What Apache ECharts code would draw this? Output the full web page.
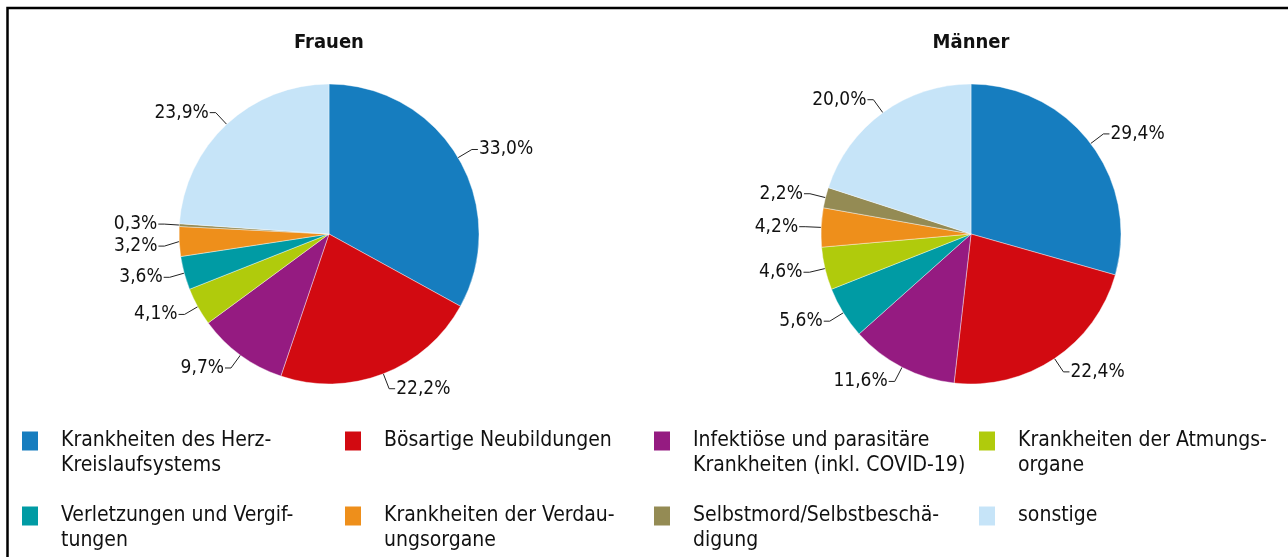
<!DOCTYPE html>
<html>
<head>
<meta charset="utf-8">
<script src="https://cdn.jsdelivr.net/npm/echarts@6/dist/echarts.min.js"></script>
<style>
  html, body { margin: 0; padding: 0; background: #fff; }
  #chart { width: 1288px; height: 557px; }
</style>
</head>
<body>
<div id="chart"></div>
<script>
// categories, in legend order
var categories = [
  'Krankheiten des Herz-Kreislaufsystems',
  'Bösartige Neubildungen',
  'Infektiöse und parasitäre Krankheiten (inkl. COVID-19)',
  'Krankheiten der Atmungsorgane',
  'Verletzungen und Vergiftungen',
  'Krankheiten der Verdauungsorgane',
  'Selbstmord/Selbstbeschädigung',
  'sonstige'
];
// legend text as it is wrapped in the picture
var legendLines = [
  'Krankheiten des Herz-\nKreislaufsystems',
  'Bösartige Neubildungen\n ',
  'Infektiöse und parasitäre\nKrankheiten (inkl. COVID-19)',
  'Krankheiten der Atmungs-\norgane',
  'Verletzungen und Vergif-\ntungen',
  'Krankheiten der Verdau-\nungsorgane',
  'Selbstmord/Selbstbeschä-\ndigung',
  'sonstige\n '
];
var colors = ['#167dbf', '#d20a11', '#951b81', '#b0cb0c', '#009ba4', '#ee8f1b', '#948b54', '#c6e4f8'];

// shares in %, clockwise from 12 o'clock
var frauenOrder = [0, 1, 2, 3, 4, 5, 6, 7];
var frauenValues = [33.0, 22.2, 9.7, 4.1, 3.6, 3.2, 0.3, 23.9];
var maennerOrder = [0, 1, 2, 4, 3, 5, 6, 7];
var maennerValues = [29.4, 22.4, 11.6, 5.6, 4.6, 4.2, 2.2, 20.0];

var fontFamily = '"DejaVu Sans Condensed", "DejaVu Sans", sans-serif';

function buildData(order, values) {
  return order.map(function (idx, i) {
    return { name: categories[idx], value: values[i], itemStyle: { color: colors[idx] } };
  });
}

function pieSeries(name, center, order, values) {
  return {
    name: name,
    type: 'pie',
    center: center,
    radius: 150,
    startAngle: 90,
    clockwise: true,
    avoidLabelOverlap: true,
    animation: false,
    itemStyle: { borderColor: '#fff', borderWidth: 0.4 },
    label: {
      show: true,
      formatter: function (p) { return p.value.toFixed(1).replace('.', ',') + '%'; },
      color: '#111',
      fontSize: 19,
      lineHeight: 20,
      fontFamily: fontFamily,
      verticalAlign: 'bottom',
      distanceToLabelLine: 1
    },
    labelLine: {
      show: true,
      length: 16,
      length2: 6,
      lineStyle: { color: '#222', width: 1 }
    },
    emphasis: { disabled: true },
    data: buildData(order, values)
  };
}

// legend: 4 columns x 2 rows; a blank first line keeps the icon level with line one
var legendX = [20, 343, 652, 977];
var legendMid = [441, 516];
var legends = categories.map(function (name, i) {
  return {
    data: [name],
    left: legendX[i % 4],
    top: legendMid[Math.floor(i / 4)] - 37.5,
    padding: 0,
    itemWidth: 18,
    itemHeight: 21,
    icon: 'rect',
    selectedMode: false,
    formatter: function () { return ' \n' + legendLines[i]; },
    textStyle: {
      color: '#111',
      fontSize: 21,
      fontFamily: fontFamily,
      lineHeight: 25,
      padding: [0, 0, 0, 17]
    }
  };
});

var chart = echarts.init(document.getElementById('chart'));
chart.setOption({
  backgroundColor: '#fff',
  animation: false,
  title: [
    { text: 'Frauen', left: 324, top: 28, textAlign: 'center',
      textStyle: { fontSize: 20, fontWeight: 'bold', color: '#111', fontFamily: fontFamily } },
    { text: 'Männer', left: 966, top: 28, textAlign: 'center',
      textStyle: { fontSize: 20, fontWeight: 'bold', color: '#111', fontFamily: fontFamily } }
  ],
  legend: legends,
  graphic: [{
    type: 'rect',
    shape: { x: 7.5, y: 8, width: 1400, height: 700 },
    style: { fill: 'none', stroke: '#000', lineWidth: 2.5 },
    silent: true
  }],
  series: [
    pieSeries('Frauen', [329, 234], frauenOrder, frauenValues),
    pieSeries('Männer', [971, 234], maennerOrder, maennerValues)
  ]
});
</script>
</body>
</html>
